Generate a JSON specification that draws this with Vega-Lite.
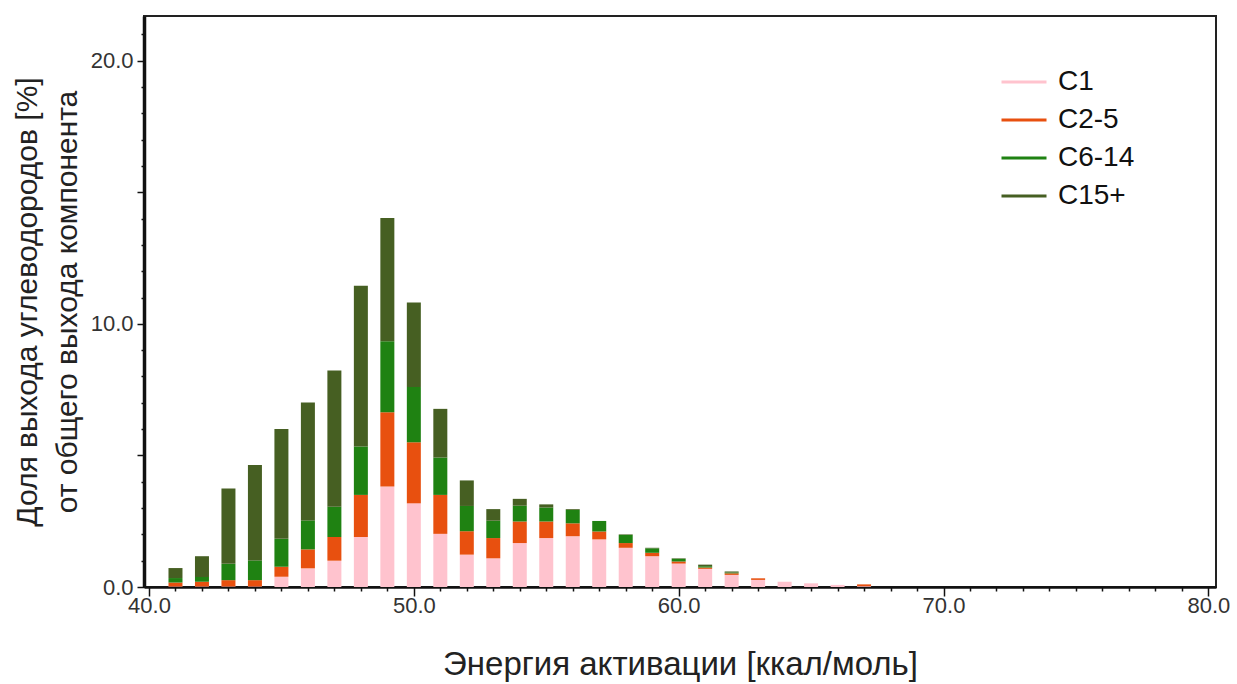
{
  "$schema": "https://vega.github.io/schema/vega-lite/v6.json",
  "autosize": {"type": "none"},
  "width": 1072,
  "height": 571,
  "padding": {"left": 144, "top": 16, "right": 21, "bottom": 97},
  "background": "white",
  "config": {
    "font": "Liberation Sans",
    "view": {"stroke": "#222", "strokeWidth": 2}
  },
  "data": {
    "values": [
      {"e": 41, "g": "C1", "v": 0.02}, {"e": 41, "g": "C2-5", "v": 0.15}, {"e": 41, "g": "C6-14", "v": 0.17}, {"e": 41, "g": "C15+", "v": 0.38},
      {"e": 42, "g": "C1", "v": 0.02}, {"e": 42, "g": "C2-5", "v": 0.18}, {"e": 42, "g": "C6-14", "v": 0.18}, {"e": 42, "g": "C15+", "v": 0.79},
      {"e": 43, "g": "C1", "v": 0.02}, {"e": 43, "g": "C2-5", "v": 0.24}, {"e": 43, "g": "C6-14", "v": 0.62}, {"e": 43, "g": "C15+", "v": 2.86},
      {"e": 44, "g": "C1", "v": 0.02}, {"e": 44, "g": "C2-5", "v": 0.24}, {"e": 44, "g": "C6-14", "v": 0.75}, {"e": 44, "g": "C15+", "v": 3.63},
      {"e": 45, "g": "C1", "v": 0.39}, {"e": 45, "g": "C2-5", "v": 0.38}, {"e": 45, "g": "C6-14", "v": 1.06}, {"e": 45, "g": "C15+", "v": 4.17},
      {"e": 46, "g": "C1", "v": 0.71}, {"e": 46, "g": "C2-5", "v": 0.72}, {"e": 46, "g": "C6-14", "v": 1.10}, {"e": 46, "g": "C15+", "v": 4.48},
      {"e": 47, "g": "C1", "v": 1.00}, {"e": 47, "g": "C2-5", "v": 0.90}, {"e": 47, "g": "C6-14", "v": 1.15}, {"e": 47, "g": "C15+", "v": 5.18},
      {"e": 48, "g": "C1", "v": 1.90}, {"e": 48, "g": "C2-5", "v": 1.60}, {"e": 48, "g": "C6-14", "v": 1.84}, {"e": 48, "g": "C15+", "v": 6.11},
      {"e": 49, "g": "C1", "v": 3.82}, {"e": 49, "g": "C2-5", "v": 2.82}, {"e": 49, "g": "C6-14", "v": 2.70}, {"e": 49, "g": "C15+", "v": 4.68},
      {"e": 50, "g": "C1", "v": 3.18}, {"e": 50, "g": "C2-5", "v": 2.32}, {"e": 50, "g": "C6-14", "v": 2.10}, {"e": 50, "g": "C15+", "v": 3.21},
      {"e": 51, "g": "C1", "v": 2.02}, {"e": 51, "g": "C2-5", "v": 1.48}, {"e": 51, "g": "C6-14", "v": 1.42}, {"e": 51, "g": "C15+", "v": 1.85},
      {"e": 52, "g": "C1", "v": 1.23}, {"e": 52, "g": "C2-5", "v": 0.89}, {"e": 52, "g": "C6-14", "v": 0.96}, {"e": 52, "g": "C15+", "v": 0.97},
      {"e": 53, "g": "C1", "v": 1.09}, {"e": 53, "g": "C2-5", "v": 0.77}, {"e": 53, "g": "C6-14", "v": 0.66}, {"e": 53, "g": "C15+", "v": 0.44},
      {"e": 54, "g": "C1", "v": 1.67}, {"e": 54, "g": "C2-5", "v": 0.82}, {"e": 54, "g": "C6-14", "v": 0.60}, {"e": 54, "g": "C15+", "v": 0.26},
      {"e": 55, "g": "C1", "v": 1.86}, {"e": 55, "g": "C2-5", "v": 0.63}, {"e": 55, "g": "C6-14", "v": 0.53}, {"e": 55, "g": "C15+", "v": 0.12},
      {"e": 56, "g": "C1", "v": 1.93}, {"e": 56, "g": "C2-5", "v": 0.49}, {"e": 56, "g": "C6-14", "v": 0.51}, {"e": 56, "g": "C15+", "v": 0.03},
      {"e": 57, "g": "C1", "v": 1.81}, {"e": 57, "g": "C2-5", "v": 0.30}, {"e": 57, "g": "C6-14", "v": 0.40}, {"e": 57, "g": "C15+", "v": 0.0},
      {"e": 58, "g": "C1", "v": 1.49}, {"e": 58, "g": "C2-5", "v": 0.18}, {"e": 58, "g": "C6-14", "v": 0.31}, {"e": 58, "g": "C15+", "v": 0.02},
      {"e": 59, "g": "C1", "v": 1.17}, {"e": 59, "g": "C2-5", "v": 0.13}, {"e": 59, "g": "C6-14", "v": 0.17}, {"e": 59, "g": "C15+", "v": 0.02},
      {"e": 60, "g": "C1", "v": 0.89}, {"e": 60, "g": "C2-5", "v": 0.08}, {"e": 60, "g": "C6-14", "v": 0.10}, {"e": 60, "g": "C15+", "v": 0.02},
      {"e": 61, "g": "C1", "v": 0.69}, {"e": 61, "g": "C2-5", "v": 0.05}, {"e": 61, "g": "C6-14", "v": 0.05}, {"e": 61, "g": "C15+", "v": 0.06},
      {"e": 62, "g": "C1", "v": 0.46}, {"e": 62, "g": "C2-5", "v": 0.06}, {"e": 62, "g": "C6-14", "v": 0.03}, {"e": 62, "g": "C15+", "v": 0.04},
      {"e": 63, "g": "C1", "v": 0.27}, {"e": 63, "g": "C2-5", "v": 0.06}, {"e": 63, "g": "C6-14", "v": 0.0}, {"e": 63, "g": "C15+", "v": 0.0},
      {"e": 64, "g": "C1", "v": 0.20}, {"e": 64, "g": "C2-5", "v": 0.0}, {"e": 64, "g": "C6-14", "v": 0.0}, {"e": 64, "g": "C15+", "v": 0.0},
      {"e": 65, "g": "C1", "v": 0.14}, {"e": 65, "g": "C2-5", "v": 0.0}, {"e": 65, "g": "C6-14", "v": 0.0}, {"e": 65, "g": "C15+", "v": 0.0},
      {"e": 66, "g": "C1", "v": 0.08}, {"e": 66, "g": "C2-5", "v": 0.0}, {"e": 66, "g": "C6-14", "v": 0.0}, {"e": 66, "g": "C15+", "v": 0.0},
      {"e": 67, "g": "C1", "v": 0.03}, {"e": 67, "g": "C2-5", "v": 0.07}, {"e": 67, "g": "C6-14", "v": 0.0}, {"e": 67, "g": "C15+", "v": 0.0}
    ]
  },
  "transform": [
    {"calculate": "indexof(['C1', 'C2-5', 'C6-14', 'C15+'], datum.g)", "as": "stackOrder"}
  ],
  "mark": {"type": "bar", "size": 14},
  "encoding": {
    "x": {
      "field": "e",
      "type": "quantitative",
      "scale": {"domain": [40, 80.1], "nice": false, "zero": false},
      "axis": {
        "title": "Энергия активации [ккал/моль]",
        "titleFontSize": 33,
        "titleFontWeight": "normal",
        "titleColor": "#222",
        "titlePadding": 32,
        "values": [40,41,42,43,44,45,46,47,48,49,50,51,52,53,54,55,56,57,58,59,60,61,62,63,64,65,66,67,68,69,70,71,72,73,74,75,76,77,78,79,80],
        "labelExpr": "datum.value % 10 === 0 ? format(datum.value, '.1f') : ''",
        "labelFontSize": 22,
        "labelColor": "#333",
        "labelFlush": false,
        "labelOverlap": false,
        "labelPadding": -1,
        "grid": false,
        "domainColor": "#111",
        "domainWidth": 2.5,
        "tickColor": "#111",
        "tickWidth": 1.5,
        "tickSize": {"condition": {"test": "datum.value % 10 === 0", "value": 9}, "value": 4}
      }
    },
    "y": {
      "field": "v",
      "type": "quantitative",
      "stack": "zero",
      "scale": {"domain": [0, 21.7], "nice": false},
      "axis": {
        "title": ["Доля выхода углеводородов [%]", "от общего выхода компонента"],
        "titleFontSize": 30,
        "titleFontWeight": "normal",
        "titleColor": "#222",
        "titleLineHeight": 40,
        "titlePadding": 8,
        "values": [0,1,2,3,4,5,6,7,8,9,10,11,12,13,14,15,16,17,18,19,20,21],
        "labelExpr": "datum.value % 10 === 0 ? format(datum.value, '.1f') : ''",
        "labelFontSize": 22,
        "labelColor": "#333",
        "labelOverlap": false,
        "labelPadding": 4,
        "grid": false,
        "domainColor": "#111",
        "domainWidth": 3.5,
        "tickColor": "#111",
        "tickWidth": 1.5,
        "tickSize": {"condition": {"test": "datum.value % 5 === 0", "value": 7}, "value": 3}
      }
    },
    "color": {
      "field": "g",
      "type": "nominal",
      "scale": {
        "domain": ["C1", "C2-5", "C6-14", "C15+"],
        "range": ["#FFC3CE", "#E8500F", "#1F8212", "#465F22"]
      },
      "legend": {
        "title": null,
        "orient": "none",
        "legendX": 856,
        "legendY": 42,
        "symbolType": "stroke",
        "symbolSize": 2025,
        "symbolStrokeWidth": 3,
        "labelFontSize": 28,
        "labelColor": "#111",
        "labelOffset": 10,
        "rowPadding": -20,
        "encode": {
          "symbols": {
            "update": {
              "stroke": {"scale": "color", "field": "value"},
              "strokeWidth": {"value": 3}
            }
          }
        }
      }
    },
    "order": {"field": "stackOrder", "type": "quantitative", "sort": "ascending"}
  }
}
